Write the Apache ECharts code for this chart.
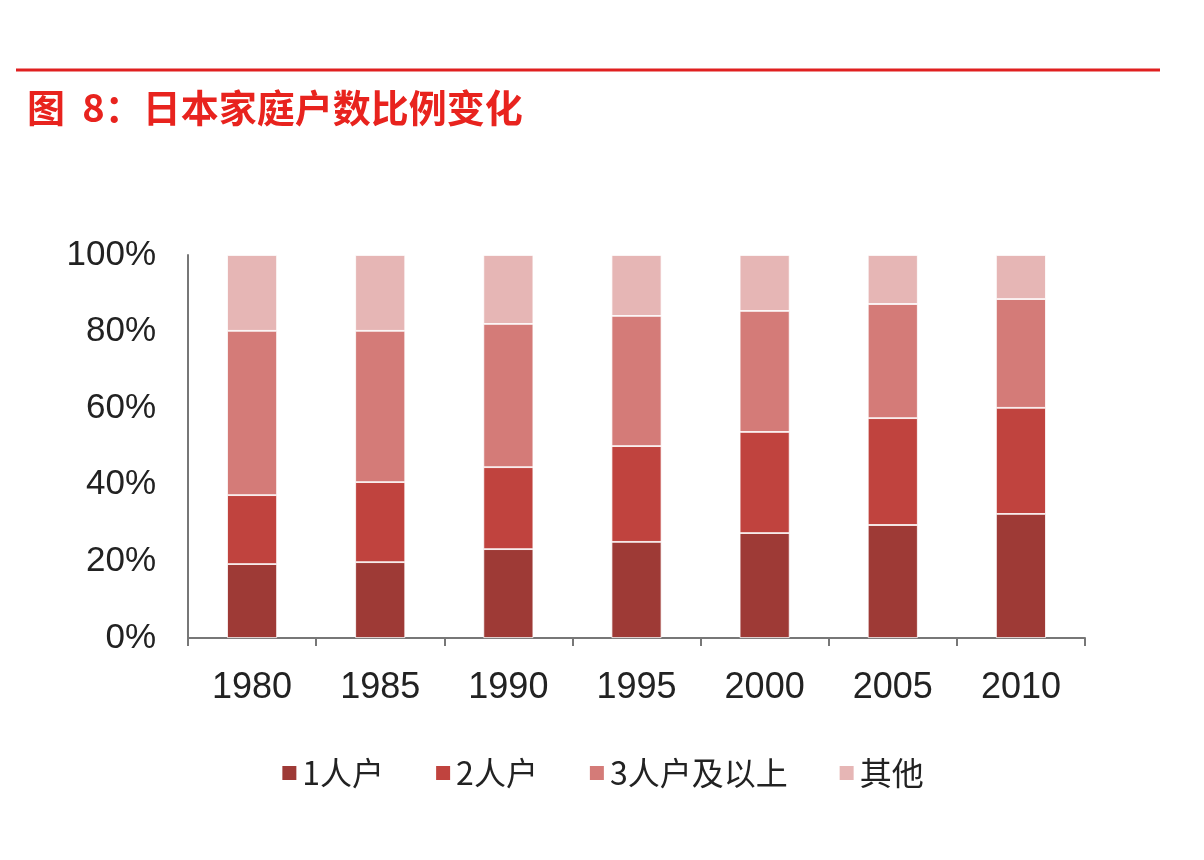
<!DOCTYPE html>
<html lang="zh">
<head>
<meta charset="UTF-8">
<title>日本家庭户数比例变化</title>
<script src="https://cdn.jsdelivr.net/npm/echarts@6/dist/echarts.min.js"></script>
<style>
  body { margin: 0; background: #fff; }
  #main { width: 1204px; height: 860px; }
</style>
</head>
<body>
<div id="main"></div>
<script type="text/javascript">
var years = ['1980', '1985', '1990', '1995', '2000', '2005', '2010'];
var onePerson = [19.3, 19.8, 23.2, 25.1, 27.4, 29.5, 32.4];
var twoPerson = [18.0, 20.9, 21.4, 25.0, 26.4, 27.9, 27.7];
var threePlus = [42.9, 39.5, 37.4, 34.0, 31.6, 29.8, 28.4];
var others = [19.8, 19.8, 18.0, 15.9, 14.6, 12.8, 11.5];

var chart = echarts.init(document.getElementById('main'));

function bar(name, data, color) {
    return {
        name: name,
        type: 'bar',
        stack: 'all',
        barWidth: 50,
        data: data,
        itemStyle: { color: color, borderColor: '#fff', borderWidth: 0.8 }
    };
}

chart.setOption({
    animation: false,
    title: {
        text: '图  8：日本家庭户数比例变化',
        left: 22,
        top: 84,
        textStyle: { color: '#e8231e', fontSize: 38, fontWeight: 'bold', fontFamily: 'Noto Sans CJK SC' }
    },
    graphic: [{
        type: 'line',
        shape: { x1: 16, y1: 70, x2: 1160, y2: 70 },
        style: { stroke: '#e02020', lineWidth: 3 }
    }],
    grid: { left: 188, right: 119, top: 255, bottom: 222 },
    legend: {
        bottom: 66,
        left: 'center',
        icon: 'rect',
        itemWidth: 16,
        itemHeight: 16,
        itemGap: 50,
        textStyle: { fontSize: 32, color: '#222', fontFamily: 'Noto Sans CJK SC' },
        data: ['1人户', '2人户', '3人户及以上', '其他']
    },
    xAxis: {
        type: 'category',
        data: years,
        axisLine: { lineStyle: { color: '#777', width: 2 } },
        axisTick: { show: true, length: 8, lineStyle: { color: '#777', width: 2 } },
        axisLabel: { fontSize: 36, color: '#222', margin: 32, fontFamily: 'Liberation Sans' }
    },
    yAxis: {
        type: 'value',
        min: 0,
        max: 100,
        interval: 20,
        axisLine: { show: true, lineStyle: { color: '#777', width: 2 } },
        axisTick: { show: false },
        splitLine: { show: false },
        axisLabel: { formatter: '{value}%', fontSize: 35, color: '#222', margin: 32, fontFamily: 'Liberation Sans' }
    },
    series: [
        bar('1人户', onePerson, '#9e3a36'),
        bar('2人户', twoPerson, '#c0433e'),
        bar('3人户及以上', threePlus, '#d47b78'),
        bar('其他', others, '#e6b6b5')
    ]
});
</script>
</body>
</html>
